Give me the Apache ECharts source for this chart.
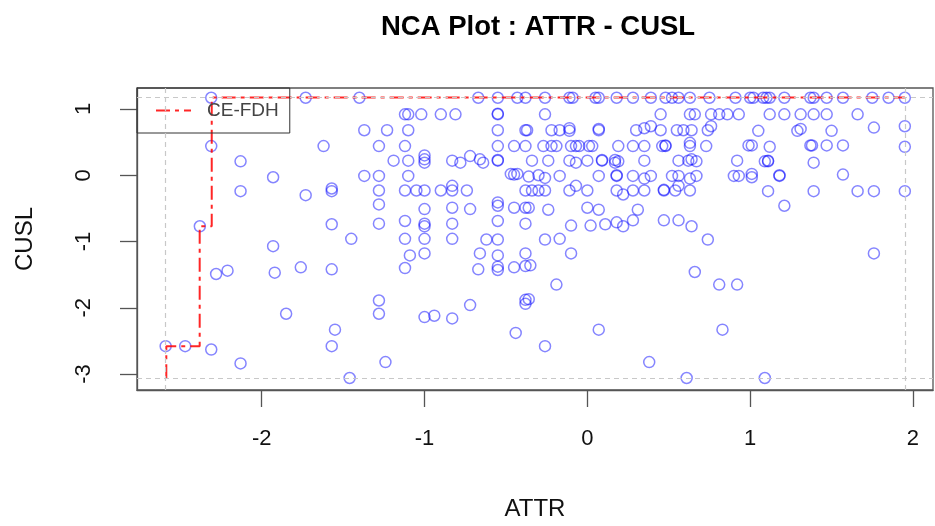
<!DOCTYPE html>
<html>
<head>
<meta charset="utf-8">
<script src="https://cdn.jsdelivr.net/npm/echarts@6/dist/echarts.min.js"></script>
<style>
  html, body { margin: 0; padding: 0; background: #fff; }
  #chart { width: 935px; height: 526px; }
</style>
</head>
<body>
<div id="chart"></div>
<script>
// NCA scatter: ATTR (x) vs CUSL (y)
var attr = [
  -2.31, -1.73, -2.31, -1.62, -2.13, -1.93, -2.13, -1.73, -1.57, -1.57, -2.38, -1.57,
  -1.93, -2.28, -2.21, -1.92, -1.76, -1.57, -1.85, -1.55, -1.57, -2.59, -2.47, -2.31, -2.13,
  -1.40, -0.67, -0.55, -0.43, -0.38,
  -1.12, -1.10, -1.02, -0.90, -0.81, -0.55, -0.55,
  -1.37, -1.23, -1.10, -0.55, -0.38, -0.37,
  -1.28, -1.12, -0.55, -0.45, -0.38,
  -1.19, -1.10, -1.00, -1.00, -1.00, -0.83, -0.78, -0.72, -0.66, -0.64, -0.55, -0.55, -0.34,
  -1.37, -1.28, -1.10, -0.47, -0.45, -0.43, -0.36, -0.30,
  -1.28, -1.12, -1.05, -1.00, -0.90, -0.83, -0.83, -0.74, -0.38, -0.34, -0.30,
  -1.28, -1.00, -0.83, -0.72, -0.55, -0.55, -0.45, -0.38, -0.36,
  -1.28, -1.12, -1.00, -1.00, -0.83, -0.55, -0.38,
  -1.45, -1.12, -1.00, -0.83, -0.62, -0.55, -1.09, -1.00, -1.12, -0.66, -0.55, -0.67,
  -0.55, -0.55, -0.45, -0.38, -0.38, -0.35, -1.28, -1.28, -1.00, -0.94, -0.83, -0.72,
  -0.38, -0.36, -0.38, -0.44, -1.24, -1.46, -0.26,
  -0.26, -0.17, -0.10, -0.19, 0.07, 0.38, 0.61, 0.66, 0.74, 0.81, 0.92, 0.83,
  1.76, 1.09,
  -0.26, -0.11, -0.09, 0.05, 0.07, 0.18, 0.28, 0.39, 0.48, 0.52, 0.56, 0.63, 0.75, 0.91,
  -0.26, 0.45, 0.63, 0.66, 0.76, 0.81, 0.86,
  -0.22, -0.17, -0.11, -0.11, 0.07, 0.07, 0.30, 0.35, 0.39, 0.45, 0.55, 0.59, 0.64, 0.74, 0.76,
  -0.27, -0.22, -0.19, -0.10, -0.07, -0.05, 0.01, 0.03, 0.19, 0.28, 0.35, 0.46, 0.48, 0.48, 0.63, 0.63, 0.73,
  -0.24, -0.11, -0.07, 0.00, 0.09, 0.09, 0.17, 0.17, 0.19, 0.35, 0.56, 0.62, 0.64, 0.67, 0.92,
  -0.26, -0.17, 0.07, 0.18, 0.18, 0.28, 0.35, 0.39, 0.52, 0.56, 0.63, 0.67, 0.90, 0.93,
  -0.26, -0.11, -0.07, 0.00, 0.18, 0.22, 0.28, 0.35, 0.47, 0.47, 0.54, 0.56, 0.63,
  -0.24, 0.00, 0.07, 0.31,
  -0.10, 0.02, 0.11, 0.18, 0.22, 0.28, 0.47, 0.56, 0.64,
  1.00, 1.02, 1.08, 1.10, 1.12, 1.21, 1.37, 1.39, 1.47, 1.57, 1.75, 1.85, 1.95,
  0.93, 1.12, 1.21, 1.31, 1.39, 1.47, 1.66,
  1.05, 1.29, 1.31, 1.50, 1.76, 1.95,
  0.99, 1.01, 1.12, 1.37, 1.38, 1.47, 1.57, 1.95,
  1.09, 1.11, 1.11, 1.39,
  1.01, 1.01, 1.18, 1.18, 1.57,
  1.11, 1.39, 1.66, 1.76, 1.95,
  1.21
];
var cusl = [
  1.17, 1.17, 0.44, 0.44, 0.21, -0.03, -0.24, -0.30, -0.20, -0.24, -0.77, -0.74,
  -1.07, -1.49, -1.44, -1.47, -1.39, -1.42, -2.09, -2.33, -2.58, -2.58, -2.58, -2.63, -2.84,
  1.17, 1.17, 1.17, 1.17, 1.17,
  0.92, 0.92, 0.92, 0.92, 0.92, 0.92, 0.93,
  0.68, 0.68, 0.68, 0.68, 0.68, 0.68,
  0.44, 0.44, 0.44, 0.44, 0.44,
  0.22, 0.22, 0.30, 0.24, 0.19, 0.22, 0.19, 0.29, 0.24, 0.19, 0.22, 0.23, 0.22,
  -0.01, -0.01, -0.01, 0.02, 0.01, 0.02, -0.02, 0.00,
  -0.23, -0.23, -0.23, -0.23, -0.23, -0.23, -0.16, -0.23, -0.23, -0.23, -0.23,
  -0.44, -0.51, -0.49, -0.51, -0.41, -0.46, -0.49, -0.49, -0.49,
  -0.73, -0.69, -0.73, -0.77, -0.73, -0.69, -0.73,
  -0.96, -0.96, -0.96, -0.96, -0.97, -0.97, -1.21, -1.18, -1.40, -1.18, -1.21, -1.42,
  -1.38, -1.43, -1.39, -1.18, -1.37, -1.36, -1.89, -2.09, -2.14, -2.12, -2.16, -1.96,
  -1.88, -1.87, -1.94, -2.38, -2.82, -3.06, -2.58,
  -0.97, -0.96, -1.18, -1.65, -2.33, -2.82, -3.06, -1.46, -0.97, -1.65, -1.65, -2.33,
  -1.18, -3.06,
  1.17, 1.17, 1.17, 1.17, 1.17, 1.17, 1.17, 1.17, 1.17, 1.17, 1.17, 1.17, 1.17, 1.17,
  0.92, 0.92, 0.92, 0.92, 0.92, 0.92, 0.92,
  0.68, 0.68, 0.71, 0.67, 0.70, 0.68, 0.68, 0.71, 0.74, 0.68, 0.68, 0.68, 0.68, 0.68, 0.74,
  0.44, 0.44, 0.44, 0.44, 0.44, 0.44, 0.44, 0.44, 0.44, 0.44, 0.44, 0.44, 0.44, 0.45, 0.49, 0.44, 0.44,
  0.22, 0.22, 0.19, 0.22, 0.23, 0.22, 0.23, 0.19, 0.21, 0.22, 0.22, 0.22, 0.24, 0.21, 0.22,
  -0.04, -0.01, -0.01, -0.01, 0.00, -0.01, -0.05, -0.01, -0.01, -0.01, -0.05, -0.01, -0.01, -0.01,
  -0.23, -0.23, -0.16, -0.23, -0.23, -0.29, -0.23, -0.23, -0.23, -0.22, -0.23, -0.16, -0.23,
  -0.52, -0.49, -0.52, -0.52,
  -0.76, -0.76, -0.74, -0.71, -0.77, -0.68, -0.68, -0.68, -0.77,
  1.17, 1.17, 1.17, 1.17, 1.17, 1.17, 1.17, 1.17, 1.17, 1.17, 1.17, 1.17, 1.17,
  0.92, 0.92, 0.92, 0.92, 0.92, 0.92, 0.92,
  0.67, 0.67, 0.70, 0.67, 0.72, 0.74,
  0.45, 0.45, 0.43, 0.45, 0.45, 0.45, 0.45, 0.43,
  0.21, 0.21, 0.22, 0.19,
  0.02, -0.03, -0.01, 0.00, 0.01,
  -0.24, -0.24, -0.24, -0.24, -0.24,
  -0.46
];

// CE-FDH ceiling (step line)
var ceilX = [-2.586, -2.586, -2.381, -2.381, -2.307, -2.307, 1.95];
var ceilY = [-3.064, -2.58, -2.58, -0.77, -0.77, 1.172, 1.172];

// scope limits (dashed grey lines)
var scopeX = [-2.586, 1.95];
var scopeY = [-3.064, 1.172];

var xTicks = [-2, -1, 0, 1, 2];
var yTicks = [-3, -2, -1, 0, 1];

var points = attr.map(function (x, i) { return [x, cusl[i]]; });
var ceiling = ceilX.map(function (x, i) { return [x, ceilY[i]]; });

var scopeLines = [];
scopeX.forEach(function (v) { scopeLines.push({ xAxis: v }); });
scopeY.forEach(function (v) { scopeLines.push({ yAxis: v }); });

var chart = echarts.init(document.getElementById('chart'));

var option = {
  animation: false,
  backgroundColor: '#fff',
  textStyle: { fontFamily: 'Liberation Sans, Arial, sans-serif' },
  title: {
    text: 'NCA Plot : ATTR - CUSL',
    left: 376,
    top: 8,
    textStyle: { fontSize: 27.5, fontWeight: 'bold', color: '#000' }
  },
  legend: {
    data: ['CE-FDH'],
    left: 137,
    top: 88,
    orient: 'vertical',
    padding: [13, 11, 13, 18],
    itemWidth: 35,
    itemHeight: 14,
    borderColor: '#333',
    borderWidth: 1,
    itemStyle: { color: 'rgba(0,0,0,0)', borderWidth: 0 },
    textStyle: { fontSize: 19, color: '#444', padding: [0, 0, 0, 11] }
  },
  grid: {
    left: 137,
    right: 2,
    top: 88,
    bottom: 134,
    show: true,
    borderColor: '#555',
    borderWidth: 1.3
  },
  xAxis: {
    type: 'value',
    min: -2.766,
    max: 2.123,
    name: 'ATTR',
    nameLocation: 'middle',
    nameGap: 107,
    nameTextStyle: { fontSize: 24, color: '#111' },
    axisLine: { show: true, onZero: false, lineStyle: { color: '#555', width: 1.3 } },
    axisTick: { show: true, customValues: xTicks, length: 17, lineStyle: { color: '#555', width: 1.3 } },
    axisLabel: { customValues: xTicks, fontSize: 22, color: '#111', margin: 38 },
    splitLine: { show: false }
  },
  yAxis: {
    type: 'value',
    min: -3.241,
    max: 1.317,
    name: 'CUSL',
    nameLocation: 'middle',
    nameGap: 100,
    nameRotate: 90,
    nameTextStyle: { fontSize: 24, color: '#111' },
    axisLine: { show: true, onZero: false, lineStyle: { color: '#555', width: 1.3 } },
    axisTick: { show: true, customValues: yTicks, length: 17, lineStyle: { color: '#555', width: 1.3 } },
    axisLabel: { customValues: yTicks, fontSize: 22, color: '#111', margin: 42, rotate: 90 },
    splitLine: { show: false }
  },
  series: [
    {
      name: 'data',
      type: 'scatter',
      data: points,
      symbol: 'circle',
      symbolSize: 11,
      itemStyle: { color: 'rgba(0,0,0,0)', borderColor: 'rgba(0,0,255,0.6)', borderWidth: 1.5 },
      markLine: {
        silent: true,
        symbol: 'none',
        label: { show: false },
        lineStyle: { color: '#c8c8c8', type: [5, 4], width: 1.2 },
        data: scopeLines
      },
      z: 2
    },
    {
      name: 'CE-FDH',
      type: 'line',
      data: ceiling,
      symbol: 'none',
      lineStyle: { color: 'rgba(255,0,0,0.85)', width: 2, type: [14, 5, 4, 5] },
      itemStyle: { color: 'rgba(255,0,0,0.85)' },
      z: 3
    }
  ]
};

chart.setOption(option);
</script>
</body>
</html>
